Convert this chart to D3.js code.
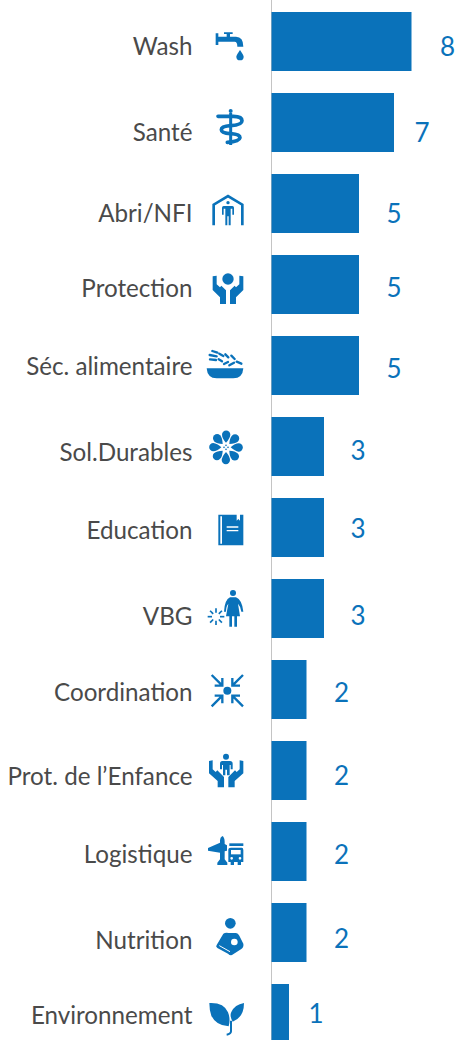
<!DOCTYPE html>
<html lang="fr">
<head>
  <meta charset="UTF-8">
  <title>Secteurs</title>
  <script src="https://d3js.org/d3.v7.min.js"></script>
  <style>
    html, body { margin: 0; padding: 0; background: #fff; overflow: hidden; }
    svg { display: block; }
    text { font-family: Lato, sans-serif; }
    .cat-label { fill: #4a4a4a; text-anchor: end; font-size: 24.2px; }
    .val-label { fill: #0a72ba; text-anchor: middle; font-size: 26px; }
  </style>
</head>
<body>
  <svg width="459" height="1040"></svg>
  <script>
    const categories = ["Wash", "Santé", "Abri/NFI", "Protection", "Séc. alimentaire", "Sol.Durables", "Education", "VBG", "Coordination", "Prot. de l’Enfance", "Logistique", "Nutrition", "Environnement"];
    const values = [8, 7, 5, 5, 5, 3, 3, 3, 2, 2, 2, 2, 1];

    // the labels in the picture do not sit quite level with the bars
    const catNudge = [5, 10, 10, 4, 1, 6, 3, 8, 3, 6, 3, 8, 2];
    const valNudge = [8, 13, 13, 6, 6, 7, 4, 10, 6, 8, 6, 9, 3];
    const valGap = { 8: 36, 7: 28, 5: 35, 3: 34, 2: 35, 1: 27 };

    const blue = "#0a72ba";
    const width = 459, height = 1040;
    const x0 = 271.5;

    const svg = d3.select("svg");

    const x = d3.scaleLinear().domain([0, 8]).range([x0, 411.5]);
    const y = d3.scaleBand().domain(categories).range([12, 1043]).paddingInner(22 / 81).paddingOuter(0);

    svg.append("line")
      .attr("x1", 271.5).attr("x2", 271.5)
      .attr("y1", 0).attr("y2", height)
      .attr("stroke", "#c4c4c4")
      .attr("stroke-width", 1);

    svg.selectAll(".bar")
      .data(categories)
      .enter().append("rect")
      .attr("class", "bar")
      .attr("x", x0)
      .attr("y", d => y(d))
      .attr("width", (d, i) => x(values[i]) - x0)
      .attr("height", y.bandwidth())
      .attr("fill", blue);

    svg.selectAll(".cat-label")
      .data(categories)
      .enter().append("text")
      .attr("class", "cat-label")
      .attr("x", 192.5)
      .attr("y", (d, i) => y(d) + y.bandwidth() / 2 + 8 + catNudge[i])
      .text(d => d);

    svg.selectAll(".val-label")
      .data(categories)
      .enter().append("text")
      .attr("class", "val-label")
      .attr("x", (d, i) => x(values[i]) + valGap[values[i]])
      .attr("y", (d, i) => y(d) + y.bandwidth() / 2 + 6 + valNudge[i])
      .text((d, i) => values[i]);

    // pictograms, drawn at 3x with the origin at x=200 and the top of the bar
    const spin = (n, cx, cy, part) => d3.range(n).map(i => ({ ...part, t: `rotate(${i * 360 / n} ${cx} ${cy})` }));
    const dot = (cx, cy, r) => `M${cx - r} ${cy}a${r} ${r} 0 1 0 ${2 * r} 0a${r} ${r} 0 1 0 ${-2 * r} 0Z`;

    const hand = "M38 64L50 62V88L60 97L64 92L78 106V147H60V127L38 105Z";
    const childHand = "M27 60L38 58V85L47 93L52 88L72 108V139H53V120L27 97Z";

    const icons = [
      [ // Wash
        { d: "M47 64H55V74H80V66H72V61H98V66H90V74H108Q130 74 130 104H112Q112 89 104 89H55V99H47Z" },
        { d: "M120 114Q131 130 131 134A11 11 0 0 1 109 134Q109 130 120 114Z" }
      ],
      [ // Santé
        { d: dot(92, 54, 6) },
        { d: "M92 60V156", s: 9 },
        { d: "M54 70H100Q126 70 126 83Q126 96 92 98Q64 100 64 110Q64 120 92 122Q120 124 120 134Q118 146 82 148", s: 11, c: "round" }
      ],
      [ // Abri
        { d: "M41 154V92L84 66L127 92V154", s: 8 },
        { d: dot(84, 86, 5) },
        { d: "M71 96H97Q102 96 102 101V122H97V104H92V154H86V127H82V154H76V104H71V122H66V101Q66 96 71 96Z" }
      ],
      [ // Protection
        { d: dot(84, 72, 17) },
        { d: hand },
        { d: hand, t: "translate(168,0) scale(-1,1)" }
      ],
      [ // Séc. alimentaire
        { d: "M20 97H130Q128 127 100 127H50Q22 127 20 97Z" },
        { d: "M29 57L50 61M37 45L52 50M30 70L48 72M58 53L70 60M76 55L85 64M94 59L104 69M56 70L66 76M72 84L84 78M88 88L102 80M110 77L124 83", s: 7, c: "round" }
      ],
      [ // Sol.Durables
        ...spin(8, 78, 91, { d: "M78 77Q66 64 66 53A12.5 12.5 0 0 1 91 53Q90 64 78 77Z" }),
        ...spin(4, 78, 91, { d: dot(78, 85, 2.5) })
      ],
      [ // Education
        { d: "M55 50H110V68L115 63L120 68V50H130V142H55Z" },
        { d: "M61 55H66V137H61Z", f: "#fff" },
        { d: "M80 85H115V89H80ZM80 96H115V100H80Z", f: "#fff" }
      ],
      [ // VBG
        { d: dot(99, 42, 9) },
        { d: "M72 98Q74 62 90 55H108Q126 62 130 98H124Q122 82 114 74L120 112H111V143H103V112H96V143H88V112H78L85 74Q78 82 78 98Z" },
        ...spin(8, 48, 113, { d: "M48 101V88", s: 5 })
      ],
      [ // Coordination
        { d: dot(82, 92, 12) },
        ...spin(4, 82, 92, { d: "M35 45L64 74M44 77H67V54", s: 7 })
      ],
      [ // Prot. de l'Enfance
        { d: dot(78, 47, 9) },
        { d: "M67 60H90Q98 60 98 68V85H92V72H89V103H81V86H76V103H69V72H66V85H60V68Q60 60 67 60Z" },
        { d: childHand },
        { d: childHand, t: "translate(157,0) scale(-1,1)" }
      ],
      [ // Logistique
        { d: "M67 42Q74 46 74 60V66L81 70V86L74 88V112L82 122V129H52V122L60 112V92L24 86V78L60 62V55Q60 46 67 42Z" },
        { d: "M88 64H130V72H88Z" },
        { d: "M93 77H125Q130 77 130 84V120H123V129H113V120H102V129H92V120H85V84Q85 77 93 77Z" },
        { d: "M93 84H122V97H93Z", f: "#fff" },
        { d: dot(95, 109, 4) + dot(120, 109, 4), f: "#fff" }
      ],
      [ // Nutrition
        { d: dot(91, 61, 16) },
        { d: "M70 92Q76 88 86 90H108Q114 90 118 98L130 122Q132 132 124 138L96 156Q90 158 84 152L52 135Q46 130 50 126Z" },
        { d: dot(103, 117, 10), f: "#fff" },
        { d: "M58 128L90 146", s: 3, f: "#fff" }
      ],
      [ // Environnement
        { d: "M28 57Q72 55 84 85Q92 105 86 127Q48 125 34 95Q28 78 28 57Z" },
        { d: "M132 57Q132 100 98 113Q88 95 94 84Q104 62 132 57Z" },
        { d: "M93 110V142Q93 150 80 152", s: 6 }
      ]
    ];

    const iconG = svg.selectAll(".icon")
      .data(categories)
      .enter().append("g")
      .attr("class", "icon")
      .attr("transform", d => `translate(200,${y(d)}) scale(${1 / 3})`);

    iconG.selectAll("path")
      .data((d, i) => icons[i])
      .enter().append("path")
      .attr("d", p => p.d)
      .attr("transform", p => p.t || null)
      .attr("fill", p => p.s ? "none" : (p.f || blue))
      .attr("stroke", p => p.s ? (p.f || blue) : "none")
      .attr("stroke-width", p => p.s || 0)
      .attr("stroke-linecap", p => p.c || null);
  </script>
</body>
</html>
